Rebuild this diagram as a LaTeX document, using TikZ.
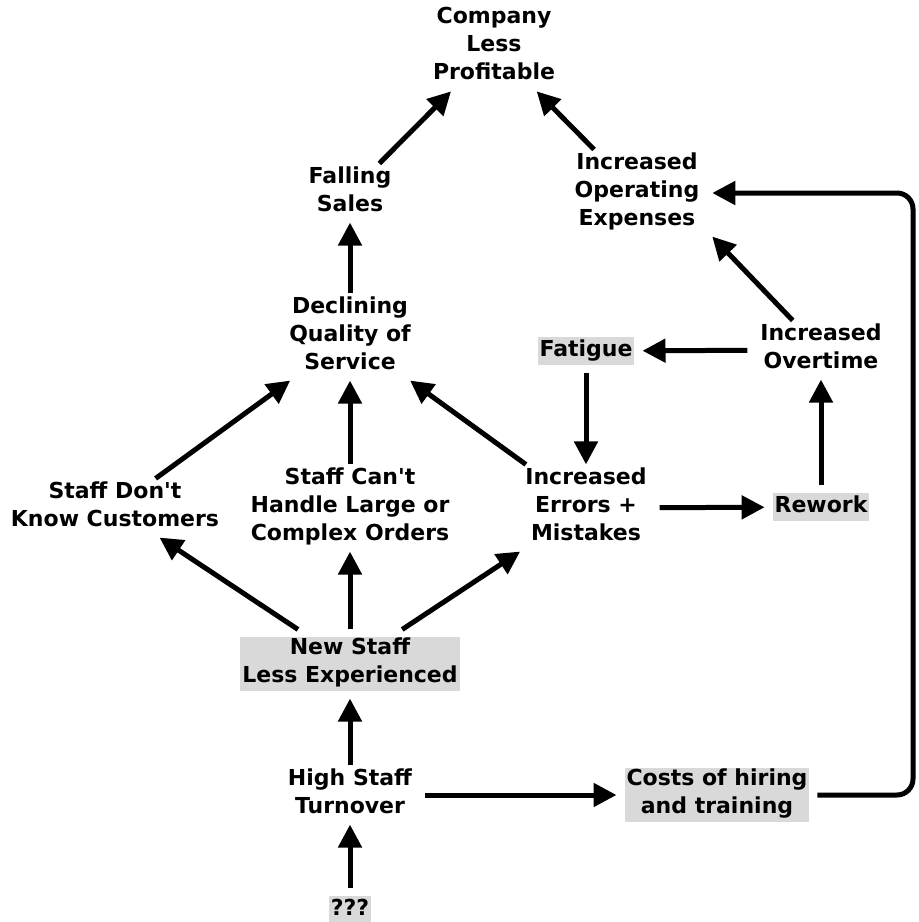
\documentclass[tikz,border=0pt]{standalone}
\usepackage{fontspec}
\setmainfont{DejaVu Sans}
\usepackage{tikz}
\usetikzlibrary{arrows.meta}

\begin{document}
\begin{tikzpicture}[x=1pt, y=-1pt,
  every node/.style={font=\fontsize{22}{28}\selectfont\bfseries, align=center,
    inner xsep=10pt, inner ysep=0pt, outer sep=3pt,
    execute at begin node=\strut, execute at end node=\strut},
  hl/.style={fill=gray!30, inner xsep=2pt, outer sep=8pt},
  link/.style={line width=5pt, -{Triangle[length=23pt,width=23pt]}}]
\useasboundingbox (0,-3) rectangle (919,919);
%
\node (prof) at (494,45) {Company\\Less\\Profitable};
\node (sales) at (350,190) {Falling\\Sales};
\node (opex) at (637,190) {Increased\\Operating\\Expenses};
\node (qual) at (350,334) {Declining\\Quality of\\Service};
\node[hl] (fat) at (586,348) {Fatigue};
\node (ot) at (821,347) {Increased\\Overtime};
\node (know) at (115,505) {Staff Don\textquotesingle t\\Know Customers};
\node (hand) at (350,505) {Staff Can\textquotesingle t\\Handle Large or\\Complex Orders};
\node (err) at (586,505) {Increased\\Errors +\\Mistakes};
\node[hl] (rew) at (821,504) {Rework};
\node[hl] (new) at (350,661) {New Staff\\Less Experienced};
\node (turn) at (350,792) {High Staff\\Turnover};
\node[hl] (cost) at (717,792) {Costs of hiring\\and training};
\node[hl] (unk) at (350,907) {???};
\coordinate (bend) at (913,190);

\draw[link] (sales) -- (prof);
\draw[link] (opex) -- (prof);
\draw[link] (qual) -- (sales);
\draw[link] (ot) -- (opex.south east);
\draw[link] (ot) -- (fat);
\draw[link] (fat) -- (err);
\draw[link] (rew) -- (ot);
\draw[link] (err) -- (rew);
\draw[link] (know) -- (qual);
\draw[link] (hand) -- (qual);
\draw[link] (err) -- (qual);
\draw[link] (new) -- (know);
\draw[link] (new) -- (hand);
\draw[link] (new) -- (err);
\draw[link] (turn) -- (new);
\draw[link] (unk) -- (turn);
\draw[link] (turn) -- (cost);
\draw[link, rounded corners=16pt] (cost) -| (bend) -- (opex);
%
\end{tikzpicture}
\end{document}
